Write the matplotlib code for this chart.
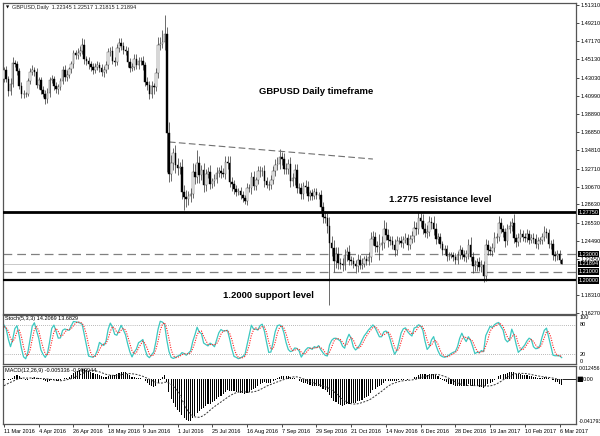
import numpy as np
import pandas as pd
import matplotlib
matplotlib.use('Agg')
import matplotlib.pyplot as plt
import matplotlib.transforms as mtransforms

# warm-up closes (25 Jan - 10 Mar 2016), only feed the indicators
warmup_close = [1.4255, 1.4285, 1.4300, 1.4230, 1.4245,
                1.4420, 1.4420, 1.4595, 1.4595, 1.4495,
                1.4430, 1.4455, 1.4510, 1.4480, 1.4505,
                1.4440, 1.4300, 1.4300, 1.4320, 1.4400,
                1.4090, 1.4005, 1.3940, 1.3975, 1.3850,
                1.3920, 1.4025, 1.4085, 1.4175, 1.4225,
                1.4240, 1.4185, 1.4225, 1.4290]
warmup_up = [40, 45, 50, 40, 55, 60, 50, 70, 45, 50, 40, 45, 55, 50, 45, 50, 60, 45,
             40, 55, 60, 50, 45, 50, 40, 45, 50, 55, 45, 60, 50, 45, 40, 50]
warmup_dn = [45, 40, 55, 50, 45, 50, 60, 45, 50, 55, 45, 50, 40, 45, 50, 55, 45, 50,
             45, 60, 70, 55, 50, 45, 50, 40, 45, 50, 40, 45, 50, 55, 45, 40]

# daily closes from 11 Mar 2016 to 7 Mar 2017 (one row per week)
close = [1.4390,
         1.4295, 1.4150, 1.4230, 1.4475, 1.4465,
         1.4380, 1.4210, 1.4125, 1.4115, 1.4125,
         1.4270, 1.4375, 1.4390, 1.4370, 1.4225,
         1.4275, 1.4160, 1.4125, 1.4065, 1.4130,
         1.4280, 1.4295, 1.4210, 1.4175, 1.4200,
         1.4270, 1.4395, 1.4310, 1.4335, 1.4400,
         1.4460, 1.4580, 1.4565, 1.4590, 1.4610,
         1.4680, 1.4515, 1.4495, 1.4465, 1.4430,
         1.4395, 1.4425, 1.4445, 1.4420, 1.4365,
         1.4395, 1.4445, 1.4600, 1.4610, 1.4500,
         1.4485, 1.4645, 1.4700, 1.4665, 1.4625,
         1.4605, 1.4480, 1.4420, 1.4430, 1.4515,
         1.4450, 1.4490, 1.4500, 1.4445, 1.4260,
         1.4225, 1.4120, 1.4205, 1.4200, 1.4355,
         1.4680, 1.4690, 1.4705, 1.4800, 1.3680,
         1.3215, 1.3330, 1.3450, 1.3310, 1.3280,
         1.3285, 1.3010, 1.2945, 1.2920, 1.2955,
         1.2985, 1.3235, 1.3170, 1.3330, 1.3195,
         1.3250, 1.3080, 1.3215, 1.3230, 1.3095,
         1.3125, 1.3155, 1.3225, 1.3245, 1.3225,
         1.3215, 1.3350, 1.3335, 1.3120, 1.3095,
         1.3035, 1.3010, 1.3015, 1.2975, 1.2935,
         1.2905, 1.3050, 1.3045, 1.3175, 1.3075,
         1.3140, 1.3240, 1.3245, 1.3245, 1.3135,
         1.3085, 1.3080, 1.3145, 1.3245, 1.3310,
         1.3325, 1.3400, 1.3380, 1.3270, 1.3265,
         1.3320, 1.3130, 1.3165, 1.3255, 1.3055,
         1.3045, 1.2985, 1.3070, 1.3065, 1.2960,
         1.2990, 1.2965, 1.3000, 1.2970, 1.2970,
         1.2835, 1.2720, 1.2710, 1.2620, 1.2430,
         1.2365, 1.2220, 1.2305, 1.2200, 1.2190,
         1.2170, 1.2285, 1.2320, 1.2235, 1.2220,
         1.2185, 1.2160, 1.2235, 1.2180, 1.2190,
         1.2240, 1.2225, 1.2265, 1.2475, 1.2490,
         1.2395, 1.2380, 1.2405, 1.2420, 1.2585,
         1.2520, 1.2455, 1.2450, 1.2400, 1.2340,
         1.2450, 1.2450, 1.2420, 1.2465, 1.2485,
         1.2405, 1.2470, 1.2500, 1.2600, 1.2585,
         1.2715, 1.2680, 1.2590, 1.2540, 1.2555,
         1.2665, 1.2650, 1.2590, 1.2475, 1.2490,
         1.2410, 1.2340, 1.2355, 1.2275, 1.2280,
         1.2290, 1.2265, 1.2235, 1.2290, 1.2340,
         1.2290, 1.2265, 1.2295, 1.2405, 1.2270,
         1.2165, 1.2175, 1.2210, 1.2155, 1.2180,
         1.2055, 1.2405, 1.2345, 1.2335, 1.2370,
         1.2485, 1.2490, 1.2650, 1.2585, 1.2550,
         1.2450, 1.2580, 1.2620, 1.2655, 1.2480,
         1.2435, 1.2485, 1.2525, 1.2495, 1.2480,
         1.2530, 1.2465, 1.2485, 1.2470, 1.2410,
         1.2450, 1.2455, 1.2490, 1.2555, 1.2540,
         1.2410, 1.2415, 1.2290, 1.2280, 1.2300,
         1.22345, 1.21894]

# wick length above / below the body, in pips
upper_wick = [40,
              45, 30, 70, 60, 35,  25, 40, 50, 35, 20,  30, 40, 55, 35, 50,
              40, 35, 50, 45, 55,  35, 40, 30, 45, 35,  30, 40, 50, 55, 30,
              35, 40, 45, 55, 50,  80, 60, 40, 45, 35,  40, 45, 55, 40, 45,
              40, 50, 45, 40, 60,  35, 40, 60, 55, 40,  35, 45, 50, 40, 60,
              60, 50, 45, 55, 40,  50, 45, 60, 40, 55,  90, 80, 140, 220, 80,
              120, 100, 60, 90, 80,  60, 90, 70, 80, 60,  60, 100, 90, 150, 80,
              60, 90, 50, 60, 80,  40, 50, 60, 45, 70,  50, 70, 60, 80, 60,
              45, 50, 40, 45, 40,  40, 60, 45, 60, 70,  40, 60, 55, 50, 70,
              45, 40, 50, 60, 70,  80, 90, 60, 70, 60,  60, 80, 60, 70, 70,
              50, 60, 50, 70, 60,  40, 45, 50, 45, 40,  60, 55, 70, 60, 100,
              80, 90, 70, 80, 60,  60, 70, 60, 80, 40,  50, 45, 60, 55, 70,
              40, 50, 60, 80, 70,  60, 50, 120, 90, 100,  80, 60, 50, 60, 70,
              50, 40, 60, 45, 50,  40, 50, 60, 70, 60,  60, 50, 80, 60, 70,
              70, 60, 80, 60, 45,  50, 40, 45, 50, 40,  30, 35, 50, 45, 60,
              40, 50, 45, 70, 90,  50, 60, 40, 60, 50,  40, 70, 60, 45, 60,
              60, 50, 80, 60, 50,  50, 60, 50, 50, 100,  45, 50, 55, 50, 40,
              50, 45, 40, 50, 60,  40, 40, 50, 60, 40,  50, 45, 60, 45, 40,
              45, 17]
lower_wick = [35,
              40, 50, 45, 30, 40,  45, 30, 50, 40, 35,  30, 40, 35, 45, 40,
              50, 45, 40, 60, 45,  40, 35, 45, 40, 50,  40, 35, 45, 40, 35,
              45, 40, 50, 45, 40,  40, 50, 45, 60, 50,  45, 40, 35, 50, 45,
              50, 40, 45, 50, 40,  45, 40, 50, 45, 55,  40, 50, 45, 40, 35,
              50, 45, 40, 55, 45,  55, 60, 50, 80, 45,  50, 60, 45, 90, 451,
              100, 80, 70, 90, 80,  70, 80, 147, 90, 60,  60, 50, 70, 60, 90,
              50, 70, 60, 55, 60,  40, 50, 45, 50, 60,  45, 60, 70, 55, 80,
              50, 45, 40, 50, 45,  40, 50, 45, 60, 50,  50, 45, 60, 55, 70,
              40, 50, 45, 50, 60,  50, 60, 70, 55, 60,  60, 70, 60, 80, 60,
              50, 60, 55, 70, 60,  45, 50, 40, 50, 45,  60, 70, 60, 80, 710,
              90, 120, 80, 70, 60,  60, 50, 70, 60, 50,  45, 80, 60, 55, 50,
              40, 45, 50, 60, 70,  70, 60, 150, 60, 50,  60, 70, 50, 45, 60,
              50, 40, 45, 50, 40,  60, 50, 45, 60, 70,  60, 70, 60, 50, 55,
              50, 60, 70, 60, 45,  45, 50, 40, 55, 40,  30, 40, 45, 50, 45,
              50, 45, 60, 55, 50,  80, 60, 70, 50, 60,  69, 60, 55, 50, 60,
              50, 60, 45, 50, 60,  70, 50, 45, 60, 50,  60, 45, 50, 45, 40,
              40, 50, 45, 40, 45,  50, 40, 45, 40, 60,  45, 50, 60, 55, 50,
              40, 8]

date_labels = ['11 Mar 2016', '4 Apr 2016', '26 Apr 2016', '18 May 2016', '9 Jun 2016',
               '1 Jul 2016', '25 Jul 2016', '16 Aug 2016', '7 Sep 2016', '29 Sep 2016',
               '21 Oct 2016', '14 Nov 2016', '6 Dec 2016', '28 Dec 2016', '19 Jan 2017',
               '10 Feb 2017', '6 Mar 2017']
price_ticks = [1.51310, 1.49210, 1.47170, 1.45130, 1.43030, 1.40990, 1.38890, 1.36850,
               1.34810, 1.32710, 1.30670, 1.28630, 1.26530, 1.24490, 1.22450, 1.18310, 1.16270]
resistance = 1.2775
support = 1.2000
dashed_levels = [1.2300, 1.2100]
bid = 1.21894
trend_x = [76, 170]
trend_y = [1.3574, 1.3380]

# ---- series ----
nw = len(warmup_close)
c_all = np.array(warmup_close + close)
o_all = np.r_[c_all[0], c_all[:-1]]
h_all = np.maximum(o_all, c_all) + np.array(warmup_up + upper_wick) / 10000
l_all = np.minimum(o_all, c_all) - np.array(warmup_dn + lower_wick) / 10000

cs = pd.Series(c_all)
macd = cs.ewm(span=12, adjust=False).mean() - cs.ewm(span=26, adjust=False).mean()
signal = macd.rolling(9, min_periods=1).mean()

ll = pd.Series(l_all).rolling(5, min_periods=1).min()
hh = pd.Series(h_all).rolling(5, min_periods=1).max()
k = 100 * (cs - ll).rolling(3, min_periods=1).sum() / (hh - ll).rolling(3, min_periods=1).sum()
d = k.rolling(3, min_periods=1).mean()

o, h, l, c = o_all[nw:], h_all[nw:], l_all[nw:], c_all[nw:]
macd, signal, k, d = macd.values[nw:], signal.values[nw:], k.values[nw:], d.values[nw:]
x = np.arange(len(c))

# ---- layout ----
W, H = 600, 436
fig = plt.figure(figsize=(6, 4.36), dpi=100)
fig.patch.set_facecolor('white')
def rect(x0, y0, x1, y1):
    return [x0 / W, 1 - y1 / H, (x1 - x0) / W, (y1 - y0) / H]
ax = fig.add_axes(rect(3, 3, 576, 314))
ax_st = fig.add_axes(rect(3, 315, 576, 364), sharex=ax)
ax_md = fig.add_axes(rect(3, 366, 576, 424), sharex=ax)

small = dict(fontsize=4, family=['Liberation Sans', 'DejaVu Sans'])
tiny = dict(fontsize=3.7, family=['Liberation Sans', 'DejaVu Sans'])
for a in (ax, ax_st, ax_md):
    for s in a.spines.values():
        s.set_color('#555555')
        s.set_linewidth(0.9)
    a.tick_params(axis='x', bottom=False, labelbottom=False)
    a.set_yticks([])
ax.set_xlim(-0.46, 263.6)

# ---- price panel ----
ax.vlines(x, l, h, color='#303030', lw=0.5, zorder=2)
bull = c >= o
ax.bar(x[bull], (c - o)[bull], bottom=o[bull], width=0.75, color='white',
       edgecolor='#404040', linewidth=0.3, zorder=3)
ax.bar(x[~bull], (o - c)[~bull], bottom=c[~bull], width=0.75, color='black',
       edgecolor='black', linewidth=0.3, zorder=3)
ax.set_ylim(1.1618, 1.5154)

ax.axhline(resistance, color='black', lw=2.0, zorder=4)
ax.axhline(support, color='black', lw=1.6, zorder=4)
for lv in dashed_levels:
    ax.axhline(lv, color='#808080', lw=0.9, dashes=(7, 4), zorder=1)
ax.axhline(bid, color='#c8c8c8', lw=0.7, zorder=1)
ax.plot(trend_x, trend_y, color='#707070', lw=0.8, dashes=(6, 3))

ax.yaxis.tick_right()
ax.set_yticks(price_ticks)
ax.set_yticklabels([f'{t:.5f}' for t in price_ticks], **small)
ax.tick_params(axis='y', length=2, width=0.5, pad=1.5, colors='black')

tr = mtransforms.blended_transform_factory(ax.transAxes, ax.transData)
for lv in [resistance, dashed_levels[0], bid, dashed_levels[1], support]:
    ax.text(1.004, lv, f'{lv:.5f}', transform=tr, color='white', va='center', ha='left',
            clip_on=False, zorder=10,
            bbox=dict(boxstyle='square,pad=0.12', fc='black', ec='none'), **small)

bold = dict(fontsize=6.8, fontweight='bold', family=['Liberation Sans', 'DejaVu Sans'])
ax.text(144, 1.4153, 'GBPUSD Daily timeframe', ha='center', va='center', **bold)
ax.text(201, 1.2925, '1.2775 resistance level', ha='center', va='center', **bold)
ax.text(122, 1.1834, '1.2000 support level', ha='center', va='center', **bold)
ax.text(0.006, 0.985, '\u25bc', transform=ax.transAxes, va='center', ha='left',
        fontsize=3, family='DejaVu Sans')
ax.text(0.016, 0.985, 'GBPUSD,Daily  1.22345 1.22517 1.21815 1.21894',
        transform=ax.transAxes, va='center', ha='left', color='#222222', **small)

# ---- stochastic ----
ax_st.set_ylim(0, 100)
for lv in (20, 80):
    ax_st.axhline(lv, color='#a0a0a0', lw=0.6, dashes=(1, 1.5))
ax_st.plot(x, k, color='#3cc8c0', lw=0.9)
ax_st.plot(x, d, color='#ff2020', lw=0.8, dashes=(1, 1.2))
ax_st.text(0.004, 0.93, 'Stoch(5,3,3) 14.2069 13.6829', transform=ax_st.transAxes,
           va='center', ha='left', **small)
trs = mtransforms.blended_transform_factory(ax_st.transAxes, ax_st.transData)
for v, lab, va in [(100, '100', 'top'), (80, '80', 'center'), (20, '20', 'center'), (0, '0', 'bottom')]:
    ax_st.text(1.006, v, lab, transform=trs, va=va, ha='left', clip_on=False, **small)

# ---- MACD ----
md_top, md_bot = 0.012456, -0.041793
ax_md.set_ylim(md_bot, md_top)
ax_md.text(0.004, 0.93, 'MACD(12,26,9) -0.005336 -0.003944', transform=ax_md.transAxes,
           va='center', ha='left', zorder=1, **small)
ax_md.bar(x, macd, width=0.5, color='black', zorder=3)
ax_md.plot(x, signal, color='#333333', lw=0.7, dashes=(2, 1.5), zorder=4)
ax_md.hlines(0, x[-1], 263.6, color='black', lw=0.6)
trm = mtransforms.blended_transform_factory(ax_md.transAxes, ax_md.transData)
ax_md.text(1.004, md_top, f'{md_top:.6f}', transform=trm, va='top', ha='left', clip_on=False, **tiny)
ax_md.text(1.004, md_bot, f'{md_bot:.6f}', transform=trm, va='bottom', ha='left', clip_on=False, **tiny)
ax_md.text(1.0, 0, '\u25a0', transform=trm, va='center', ha='left', clip_on=False,
           fontsize=5, family='DejaVu Sans')
ax_md.text(1.012, 0, '0.00', transform=trm, va='center', ha='left', clip_on=False, **small)

ax_md.set_xticks(np.arange(0, 16 * len(date_labels), 16))
ax_md.set_xticklabels(date_labels, ha='left', **small)
ax_md.tick_params(axis='x', bottom=True, labelbottom=True, length=2, width=0.5, pad=1.5)

fig.savefig('out.png', dpi=100, facecolor='white')
